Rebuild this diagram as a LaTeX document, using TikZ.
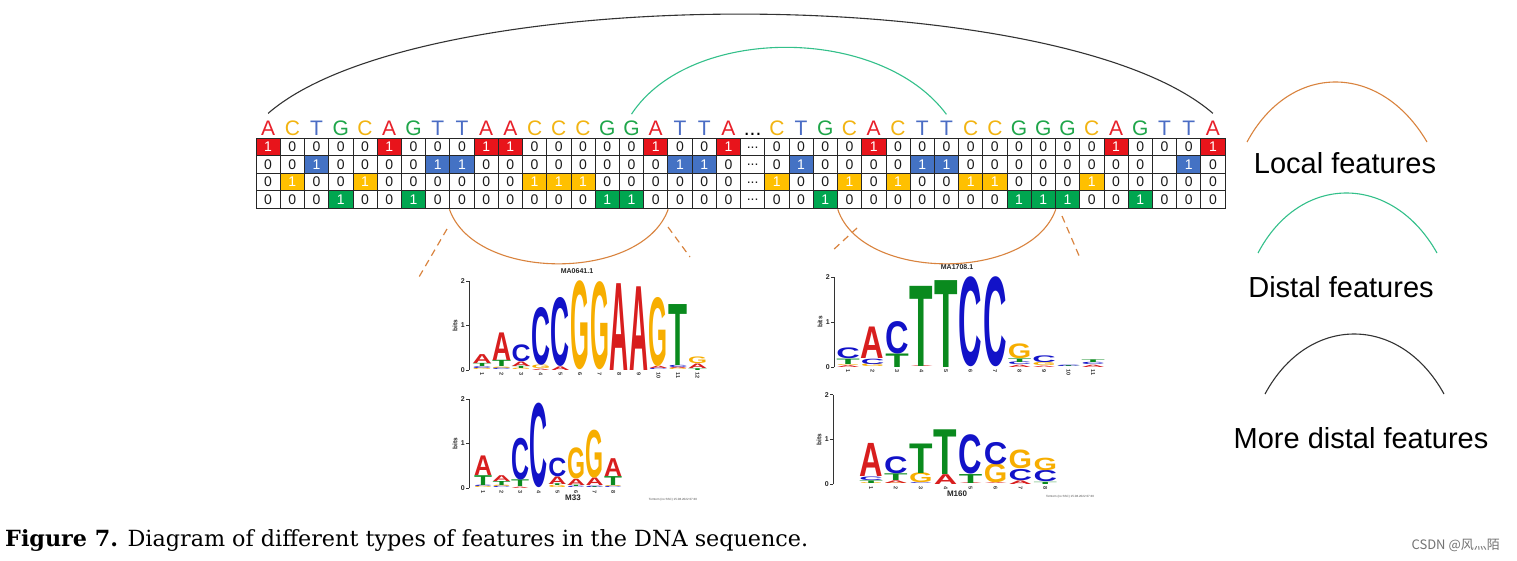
\documentclass[tikz,border=0pt]{standalone}
\usepackage{fontspec}
\setmainfont{Liberation Sans}
\newfontfamily\capfont{DejaVu Serif}
\newfontfamily\cjkfont{Noto Sans CJK SC}
\usepackage{graphicx}
\definecolor{seqA}{HTML}{E8202A}
\definecolor{seqC}{HTML}{F2B412}
\definecolor{seqT}{HTML}{4A6CC4}
\definecolor{seqG}{HTML}{1FA64A}
\definecolor{fillA}{HTML}{E8141B}
\definecolor{fillT}{HTML}{4472C4}
\definecolor{fillC}{HTML}{FFC000}
\definecolor{fillG}{HTML}{00A650}
\definecolor{lgA}{HTML}{D81E1E}
\definecolor{lgC}{HTML}{1212C8}
\definecolor{lgG}{HTML}{F7AE00}
\definecolor{lgT}{HTML}{0A8A1E}
\definecolor{locc}{HTML}{D9833E}
\definecolor{distc}{HTML}{33C08A}
\newcounter{lgc}
\newcommand\drawlogo[6]{%
  \foreach \col [count=\k] in {#6} {%
    \pgfmathsetmacro\cx{#1+(\k-1)*#2}%
    \xdef\cumy{#4}%
    \foreach \L/\h in \col {%
      \stepcounter{lgc}%
      \pgfmathsetmacro\hh{\h*#5}%
      \node[logolet, text=lg\L, name=lg\arabic{lgc}] at (\cx,\cumy) {\resizebox*{#3pt}{\hh pt}{\bfseries\L}};%
      \pgfmathsetmacro\ny{\cumy-\hh}%
      \xdef\cumy{\ny}%
    }%
  }%
}
\newcommand\logoaxis[7]{%
  \draw[logoax] (#1,#2) -- (#1,#2-2*#3);
  \foreach \t in {0,1,2} {%
    \draw[logoax] (#1,#2-\t*#3) -- (#1-3,#2-\t*#3);
    \node[ticklab, anchor=east, name=#7t\t] at (#1-3,#2-\t*#3) {\t};
  }
  \node[bitslab, rotate=90, name=#7b] at (#1-14,#2-#3) {bits};
  \foreach \k in {1,...,#6} {%
    \node[xlab, rotate=-90, anchor=west, name=#7x\k] at (#4+\k*#5-#5,#2+2) {\k};
  }
}
\tikzset{
  seqlet/.style={anchor=base, inner sep=1pt, font=\fontsize{21}{21}\selectfont},
  cellbox/.style={draw=black!85, line width=0.7pt, minimum width=24.225pt, minimum height=17.5pt, inner sep=0pt, font=\fontsize{14}{14}\selectfont, text=black!90},
  logolet/.style={anchor=south, inner sep=0pt, outer sep=0pt},
  logoax/.style={draw=black!80, line width=0.8pt},
  ticklab/.style={inner sep=1pt, font=\fontsize{7}{7}\selectfont\bfseries, text=black!85},
  bitslab/.style={inner sep=0pt, font=\fontsize{6.5}{6.5}\selectfont\bfseries, text=black!85},
  xlab/.style={inner sep=0.5pt, font=\fontsize{5.5}{5.5}\selectfont\bfseries, text=black!80},
  logotitle/.style={inner sep=0pt, font=\fontsize{7}{7}\selectfont\bfseries, text=black!85},
  logoname/.style={inner sep=0pt, font=\fontsize{8}{8}\selectfont\bfseries, text=black!85},
  footnote/.style={inner sep=0pt, font=\fontsize{3}{3}\selectfont, text=black!70},
  legtext/.style={anchor=base, inner sep=0pt, font=\fontsize{29}{29}\selectfont, text=black},
  localarc/.style={draw=locc, line width=1.1pt},
  distarc/.style={draw=distc, line width=1.1pt},
  morearc/.style={draw=black!80, line width=1.1pt},
  zoomdash/.style={draw=locc, line width=1.2pt, dash pattern=on 7pt off 5pt}
}
\begin{document}
\begin{tikzpicture}[x=1pt,y=-1pt]
\fill[white] (0,0) rectangle (1517,560);
\useasboundingbox (0,0) rectangle (1517,560);

% ---- sequence and one-hot matrix ----
\foreach \L/\k [count=\i] in {A/1,C/3,T/2,G/4,C/3,A/1,G/4,T/2,T/2,A/1,
  A/1,C/3,C/3,C/3,G/4,G/4,A/1,T/2,T/2,A/1,D/0,
  C/3,T/2,G/4,C/3,A/1,C/3,T/2,T/2,C/3,C/3,
  G/4,G/4,G/4,C/3,A/1,G/4,T/2,T/2,A/1} {
  \pgfmathsetmacro\cx{256+(\i-0.5)*24.225}
  \ifnum\k=0
    \node[seqlet, name=s\i] at (\cx,135) {...};
    \foreach \r in {1,...,4} {
      \node[cellbox, name=c\r-\i] at (\cx,{138+(\r-0.5)*17.5}) {\raisebox{-3pt}{...}};
    }
  \else
    \node[seqlet, text=seq\L, name=s\i] at (\cx,135) {\L};
    \foreach \r/\rl in {1/A,2/T,3/C,4/G} {
      \pgfmathtruncatemacro\blank{(\i==38)&&(\r==2)}
      \ifnum\blank=1
        \node[cellbox, name=c\r-\i] at (\cx,{138+(\r-0.5)*17.5}) {};
      \else
        \ifnum\r=\k
          \node[cellbox, fill=fill\rl, text=white, name=c\r-\i] at (\cx,{138+(\r-0.5)*17.5}) {1};
        \else
          \node[cellbox, name=c\r-\i] at (\cx,{138+(\r-0.5)*17.5}) {0};
        \fi
      \fi
    }
  \fi
}

% ---- arcs above ----
\draw[morearc] ([yshift=6pt]s1.north) .. controls (420,-19) and (1060,-19) .. ([yshift=6pt]s40.north);
\draw[distarc] ([yshift=5pt]s16.north) .. controls (690,25) and (880,25) .. ([yshift=5pt]s29.north);

% ---- local arcs below ----
\draw[localarc] ([yshift=-1pt]c4-9.south west) .. controls (475,282) and (642,282) .. ([yshift=-1pt]c4-17.south east);
\draw[localarc] ([yshift=-1pt]c4-24.south east) .. controls (862,282) and (1030,282) .. ([yshift=-1pt]c4-33.south east);

\coordinate (d1a) at (447,229); \coordinate (d1b) at (419,277);
\coordinate (d2a) at (668,227); \coordinate (d2b) at (690,257);
\coordinate (d3a) at (857,228); \coordinate (d3b) at (832,251);
\coordinate (d4a) at (1062,216); \coordinate (d4b) at (1080,258);
\draw[zoomdash] (d1a) -- (d1b);
\draw[zoomdash] (d2a) -- (d2b);
\draw[zoomdash] (d3a) -- (d3b);
\draw[zoomdash] (d4a) -- (d4b);

% ---- logo 1: MA0641.1 ----
\node[logotitle, name=t1] at (577,271) {MA0641.1};
\logoaxis{469}{370}{44.5}{482}{19.6}{12}{la}
\drawlogo{482}{19.6}{19}{370}{44.5}{{G/.03,C/.04,T/.07,A/.2},{C/.04,G/.03,T/.14,A/.62},{G/.03,T/.05,A/.1,C/.38},{A/.03,G/.08,C/1.3},{A/.08,C/1.55},{G/2.0},{G/1.98},{A/1.95},{A/1.88},{C/.03,A/.05,G/1.55},{G/.03,A/.03,C/.05,T/1.37},{T/.04,A/.1,G/.15}}

% ---- logo 2: M33 ----
\logoaxis{469}{488}{44.5}{483}{18.6}{8}{lb}
\drawlogo{483}{18.6}{18}{488}{44.5}{{G/.03,C/.03,T/.22,A/.44},{C/.03,G/.03,T/.09,A/.13},{A/.03,T/.15,C/.94},{C/1.9},{G/.05,T/.04,A/.17,C/.42},{C/.03,T/.03,A/.14,G/.7},{T/.02,C/.03,A/.17,G/1.08},{C/.03,G/.02,T/.2,A/.4}}
\node[logoname, name=t2] at (573,498) {M33};
\node[footnote, name=f2] at (673,500) {Tomtom (no SSC) 15.08.2022 07:30};

% ---- logo 3: MA1708.1 ----
\node[logotitle, name=t3] at (957,267) {MA1708.1};
\logoaxis{834}{367}{45}{848}{24.5}{11}{lc}
\drawlogo{848}{24.5}{23.5}{367}{45}{{A/.04,G/.02,T/.12,C/.24},{G/.06,C/.12,A/.7},{T/.3,C/.72},{A/.02,T/1.78},{T/1.93},{C/2.0},{C/2.0},{A/.05,C/.06,T/.08,G/.33},{A/.03,G/.07,C/.15},{T/.02,C/.03},{A/.05,C/.05,T/.06}}

% ---- logo 4: M160 ----
\logoaxis{833}{484}{44.7}{871}{24.9}{8}{ld}
\drawlogo{871}{24.9}{23.5}{484}{44.7}{{G/.02,T/.06,C/.08,A/.74},{G/.02,A/.06,T/.15,C/.38},{C/.02,G/.22,T/.66},{A/.22,T/1.0},{A/.02,T/.2,C/.88},{A/.02,G/.42,C/.5},{A/.08,C/.25,G/.42},{T/.05,C/.25,G/.28}}
\node[logoname, name=t4] at (957,494) {M160};
\node[footnote, name=f4] at (1070,497) {Tomtom (no SSC) 15.08.2022 07:30};

% ---- legend ----
\coordinate (la1) at (1247,142); \coordinate (la2) at (1427,142);
\draw[localarc] (la1) .. controls (1290,62) and (1380,62) .. (la2);
\node[legtext, name=leg1] at (1345,173) {Local features};
\coordinate (lb1) at (1258,253); \coordinate (lb2) at (1437,253);
\draw[distarc] (lb1) .. controls (1300,173) and (1392,173) .. (lb2);
\node[legtext, name=leg2] at (1341,297) {Distal features};
\coordinate (lc1) at (1265,394); \coordinate (lc2) at (1444,394);
\draw[morearc] (lc1) .. controls (1308,314) and (1400,314) .. (lc2);
\node[legtext, name=leg3] at (1361,448) {More distal features};

% ---- caption ----
\node[anchor=base west, inner sep=0pt, name=cap] at (5,546) {\resizebox{803pt}{!}{\capfont\fontsize{20}{20}\selectfont\textbf{Figure 7.} Diagram of different types of features in the DNA sequence.}};
\node[anchor=base east, inner sep=0pt, text=black!55, name=wm] at (1500,549) {\cjkfont\fontsize{13}{13}\selectfont CSDN @风灬陌};
\end{tikzpicture}
\end{document}
